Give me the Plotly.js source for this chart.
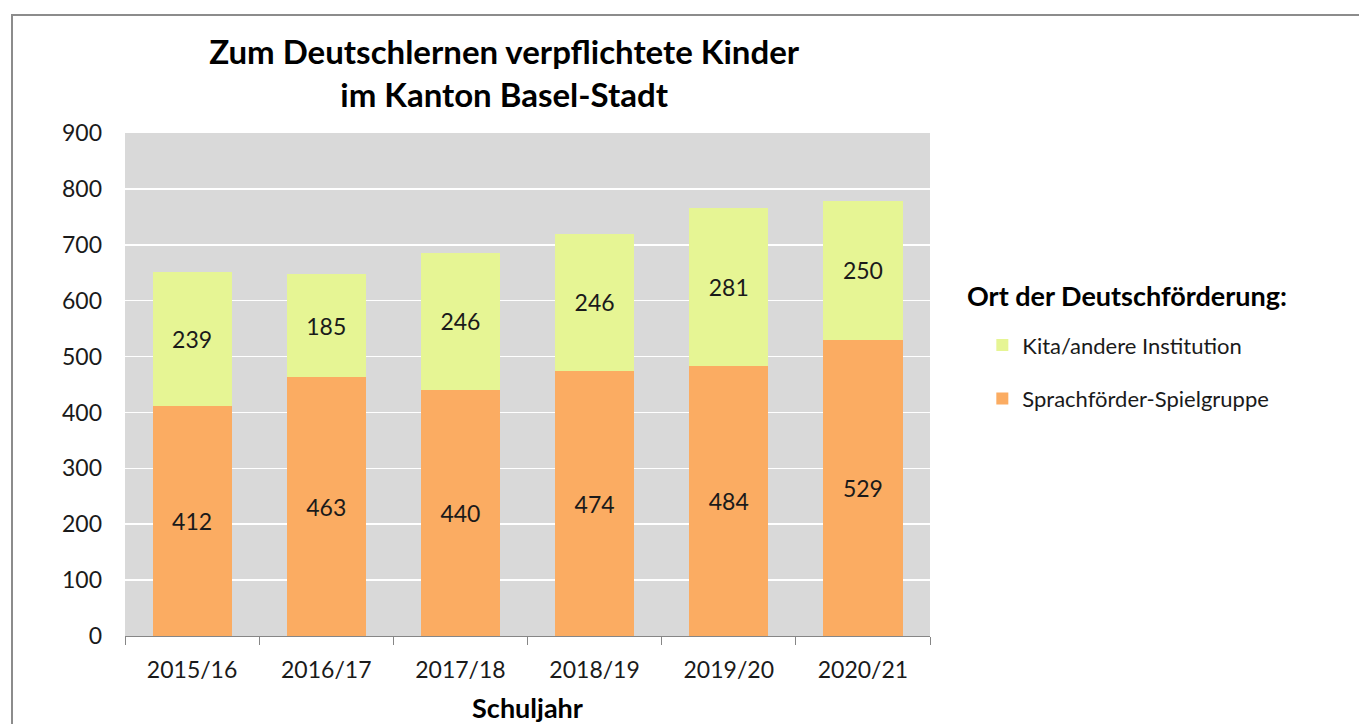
<!DOCTYPE html>
<html>
<head>
<meta charset="utf-8">
<script src="https://cdn.plot.ly/plotly-3.0.1.min.js"></script>
<style>
html,body{margin:0;padding:0;background:#fff;}
#wrap{position:relative;width:1359px;height:724px;}
#chart{position:absolute;left:0;top:0;width:1359px;height:724px;}
#frame{position:absolute;left:11px;top:14px;right:0;bottom:0;border-top:2px solid #8c8c8c;border-left:2px solid #8c8c8c;pointer-events:none;}
</style>
</head>
<body>
<div id="wrap"><div id="chart"></div><div id="frame"></div></div>
<script>
const categories = ['2015/16','2016/17','2017/18','2018/19','2019/20','2020/21'];
const spielgruppe = [412, 463, 440, 474, 484, 529];
const kita = [239, 185, 246, 246, 281, 250];
const seriesNames = ['Sprachförder-Spielgruppe', 'Kita/andere Institution'];
const yTicks = [0,100,200,300,400,500,600,700,800,900];

const F = 'Lato, "Open Sans", sans-serif';
const txtFont = {family: F, size: 23, color: '#1a1a1a'};

const traces = [
  {type:'bar', name: seriesNames[0], x: categories, y: spielgruppe, legendgroup:'a', legendrank:2,
   marker:{color:'#fbac62'}, text: spielgruppe.map(String), textposition:'inside',
   insidetextanchor:'middle', textfont: txtFont, hoverinfo:'x+y+name'},
  {type:'bar', name: seriesNames[1], x: categories, y: kita, legendgroup:'b', legendrank:1,
   marker:{color:'#e6f594'}, text: kita.map(String), textposition:'inside',
   insidetextanchor:'middle', textfont: txtFont, hoverinfo:'x+y+name'}
];

const layout = {
  width:1359, height:724,
  margin:{l:125, r:429, t:133, b:88},
  paper_bgcolor:'#ffffff', plot_bgcolor:'#d9d9d9',
  barmode:'stack', bargap:0.41,
  font:{family:F, color:'#1a1a1a'},
  title:{text:'Zum Deutschlernen verpflichtete Kinder<br>im Kanton Basel-Stadt',
         font:{family:F, size:33, color:'#000', weight:'bold'},
         x:0.471, xref:'paper', xanchor:'center', y:0.912, yref:'container', yanchor:'middle'},
  xaxis:{type:'category', tickmode:'array', tickvals:categories, ticktext:categories,
         tickfont:{family:F, size:23, color:'#1a1a1a'},
         showline:true, linecolor:'#868686', linewidth:1,
         ticks:'outside', tickson:'boundaries', ticklen:8, tickcolor:'#868686',
         ticklabelstandoff:13,
         showgrid:false, zeroline:false,
         title:{text:'Schuljahr', font:{family:F, size:27, color:'#000', weight:'bold'}, standoff:22}},
  yaxis:{range:[0,900], tickmode:'array', tickvals:yTicks,
         tickfont:{family:F, size:23, color:'#1a1a1a'},
         showgrid:true, gridcolor:'#ffffff', gridwidth:1.5,
         showline:false, zeroline:false, ticks:'', ticklabelstandoff:22},
  showlegend:true,
  legend:{x:1.065, xanchor:'left', y:0.62, yanchor:'top', traceorder:'grouped',
          tracegroupgap:22, font:{family:F, size:22, color:'#1a1a1a'}, bgcolor:'rgba(0,0,0,0)'},
  annotations:[
    {text:'Ort der Deutschförderung:', xref:'paper', yref:'paper', x:(965-125)/805, y:(636-295)/503,
     xanchor:'left', yanchor:'middle', showarrow:false,
     font:{family:F, size:27, color:'#000', weight:'bold'}}
  ]
};

Plotly.newPlot('chart', traces, layout, {displayModeBar:false, staticPlot:true});
</script>
</body>
</html>
